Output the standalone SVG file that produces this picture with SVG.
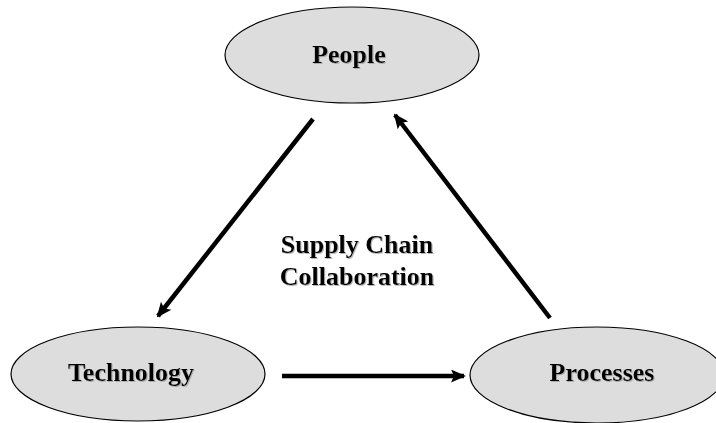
<svg xmlns="http://www.w3.org/2000/svg" width="716" height="423" viewBox="0 0 716 423">
  <defs>
    <style>
      .node ellipse { fill: #dddddd; stroke: #000000; stroke-width: 1.2; }
      .label { font-family: "Liberation Serif", "Times New Roman", serif; font-weight: bold; font-size: 26px; fill: #000000; text-anchor: middle; filter: url(#shadow); }
      .conn { stroke: #000000; stroke-width: 4.5; fill: none; marker-end: url(#head); }
    </style>
    <filter id="shadow" x="-10%" y="-20%" width="120%" height="150%">
      <feDropShadow dx="1" dy="1" stdDeviation="0.5" flood-color="#999999" flood-opacity="0.7"/>
    </filter>
    <marker id="head" markerUnits="userSpaceOnUse" markerWidth="15" markerHeight="13" refX="13" refY="6.5" orient="auto">
      <path d="M0,0 L15,6.5 L0,13 L3,6.5 Z" fill="#000000"/>
    </marker>
  </defs>

  <rect width="716" height="423" fill="#ffffff"/>

  <!-- connectors -->
  <g id="connectors">
    <line class="conn" x1="313" y1="119" x2="158" y2="316"/>
    <line class="conn" x1="282" y1="376" x2="464" y2="376"/>
    <line class="conn" x1="550" y1="318" x2="395" y2="115"/>
  </g>

  <g id="people" class="node">
    <ellipse cx="352" cy="55" rx="127" ry="48"/>
    <text class="label" x="349" y="63">People</text>
  </g>

  <g id="technology" class="node">
    <ellipse cx="138" cy="374" rx="127" ry="47"/>
    <text class="label" x="131" y="381">Technology</text>
  </g>

  <g id="processes" class="node">
    <ellipse cx="597" cy="375" rx="127" ry="48"/>
    <text class="label" x="602" y="381">Processes</text>
  </g>

  <g id="center-label">
    <text class="label" x="357" y="253">Supply Chain</text>
    <text class="label" x="357" y="285">Collaboration</text>
  </g>
</svg>
